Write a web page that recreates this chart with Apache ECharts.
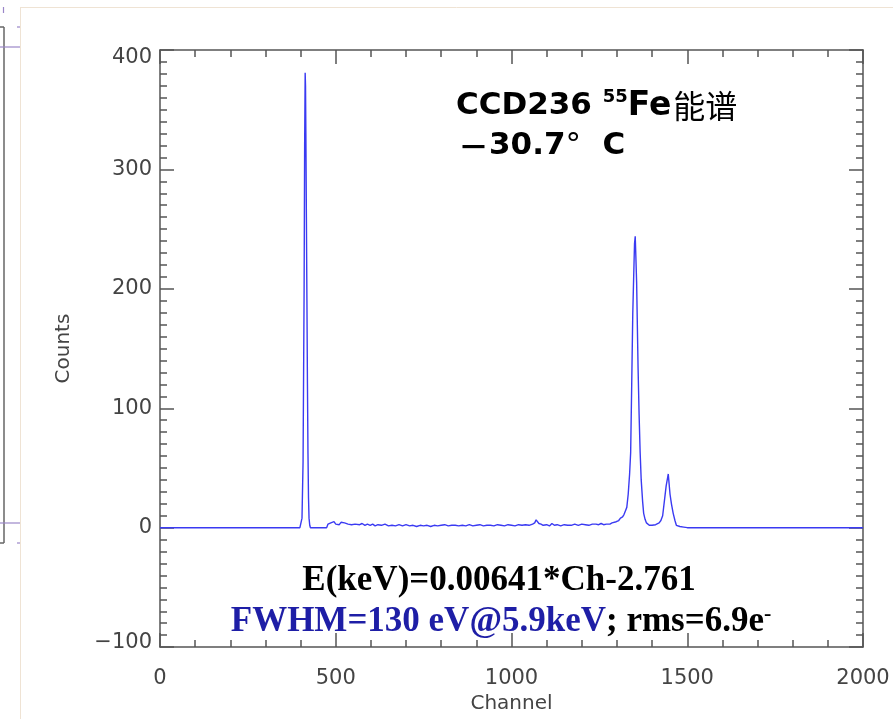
<!DOCTYPE html>
<html>
<head>
<meta charset="utf-8">
<title>CCD236 55Fe spectrum</title>
<script src="https://cdn.jsdelivr.net/npm/echarts@6.0.0/dist/echarts.min.js"></script>
<style>
  html, body { margin: 0; padding: 0; background: #fff; }
  #fe-spectrum { width: 893px; height: 719px; }
</style>
</head>
<body>
<div id="fe-spectrum"></div>
<script>
// channel / counts (piecewise, flat parts kept as end points)
var channels = [
  0, 398, 401, 404, 407, 410, 411.5, 413, 414, 415, 416.5, 418, 419.5, 421, 422.5, 424, 426, 428,
  474, 478, 482, 486, 490, 495, 500, 505, 510, 515, 520, 525, 530, 535, 540, 545, 550, 555,
  560, 568, 575, 583, 590, 598, 605, 612, 620, 630, 640, 650, 660, 670, 680, 690, 700,
  710, 720, 730, 740, 750, 760, 770, 780, 790, 800, 810, 820, 830, 840, 850, 860, 870,
  880, 890, 900, 910, 920, 930, 940, 950, 960, 970, 980, 990, 1000, 1010, 1020, 1030, 1040,
  1050, 1060, 1066, 1070, 1074, 1078, 1084, 1090, 1095, 1100, 1108, 1115, 1122, 1130, 1140,
  1150, 1160, 1170, 1180, 1190, 1200, 1210, 1220, 1230, 1240, 1248, 1255, 1262, 1270, 1275,
  1280, 1286, 1291, 1298, 1305, 1310, 1316, 1320, 1324, 1328, 1332, 1336, 1339, 1342, 1345, 1348,
  1350, 1352, 1354, 1356, 1358, 1360, 1363, 1366, 1369, 1373, 1376, 1380, 1384, 1388, 1392,
  1395, 1400, 1405, 1410, 1415, 1420, 1425, 1430, 1436, 1440, 1446, 1448, 1451, 1455, 1460,
  1465, 1469, 1479, 1490, 1500, 2000
];
var counts = [
  0, 0, 1, 8, 55, 200, 320, 381, 370, 330, 260, 190, 120, 62, 25, 8, 2, 0,
  0, 3, 2, 4, 3, 5, 3, 4, 2.5, 4.5, 3, 4, 5, 3, 4, 2.5, 4, 3,
  3.5, 2.5, 3.5, 2, 3, 2, 3, 1.5, 2.5, 2, 3, 1.5, 2, 1.5, 2.5, 1.5, 2.5,
  1.5, 2, 1, 2, 1.5, 2, 1, 2, 1.5, 2, 2.5, 1.5, 2, 2, 1.5, 2, 1.5,
  2.5, 1.5, 2, 2.5, 1.5, 2, 2, 1.5, 2.5, 2, 1.5, 2.5, 2, 1.5, 2.5, 2, 2.5,
  2, 3, 4, 6.5, 5, 3.5, 3, 2, 3, 2.5, 1.5, 3.5, 2, 2.5, 1.5,
  2.5, 2, 2, 3, 2, 3, 2.5, 2, 3, 3, 2.5, 3.5, 2.5, 3, 4,
  3, 4, 3, 5, 6, 8, 9, 11, 14, 17, 28, 45, 63, 120, 179, 215,
  238, 244, 225, 205, 170, 135, 95, 63, 40, 22, 12, 7, 4, 2.5, 2,
  3, 2, 3, 2.5, 3.5, 4, 6, 10, 25, 35, 45, 38, 28, 20, 12,
  6, 2, 1, 0.5, 0, 0
];

var xTicks = { min: 0, max: 2000, step: 500 };
var yTicks = { min: -100, max: 400, step: 100 };

var spectrum = channels.map(function (c, i) { return [c, counts[i]]; });

var chart = echarts.init(document.getElementById('fe-spectrum'));

var axisGrey = '#555';
var labelFont = 'DejaVu Sans';

function boxAxis(show) {
  return {
    axisLine: { show: true, onZero: false, lineStyle: { color: axisGrey, width: 1.5 } },
    axisTick: { show: true, inside: true, length: 14, lineStyle: { color: axisGrey, width: 1.5 } },
    minorTick: { show: true, length: 7, lineStyle: { color: axisGrey, width: 1.5 } },
    splitLine: { show: false },
    axisLabel: { show: show }
  };
}

var option = {
  animation: false,
  backgroundColor: '#fff',
  textStyle: { fontFamily: labelFont },
  grid: { left: 160, right: 30, top: 50, bottom: 64 },
  xAxis: [
    Object.assign(boxAxis(true), {
      type: 'value', position: 'bottom',
      min: xTicks.min, max: xTicks.max, interval: xTicks.step,
      minorTick: { show: true, splitNumber: 5, length: 7, lineStyle: { color: axisGrey, width: 1.5 } },
      axisLabel: {
        show: true, margin: 21, fontSize: 21, color: '#444', fontFamily: labelFont,
        formatter: function (v) { return String(v); }
      },
      name: 'Channel', nameLocation: 'middle', nameGap: 46,
      nameTextStyle: { fontSize: 20, color: '#444', fontFamily: labelFont }
    }),
    Object.assign(boxAxis(false), {
      type: 'value', position: 'top',
      min: xTicks.min, max: xTicks.max, interval: xTicks.step,
      minorTick: { show: true, splitNumber: 5, length: 7, lineStyle: { color: axisGrey, width: 1.5 } }
    })
  ],
  yAxis: [
    Object.assign(boxAxis(true), {
      type: 'value', position: 'left',
      min: yTicks.min, max: yTicks.max, interval: yTicks.step,
      minorTick: { show: true, splitNumber: 10, length: 7, lineStyle: { color: axisGrey, width: 1.5 } },
      axisLabel: {
        show: true, margin: 8, fontSize: 21, color: '#444', fontFamily: labelFont,
        formatter: function (v) {
          var s = v < 0 ? '\u2212' + Math.abs(v) : String(v);
          if (v === yTicks.max) return '{t|' + s + '}';
          if (v === yTicks.min) return '{b|' + s + '}';
          return s;
        },
        rich: {
          t: { fontSize: 21, color: '#444', fontFamily: labelFont, padding: [16, 0, 0, 0] },
          b: { fontSize: 21, color: '#444', fontFamily: labelFont, padding: [0, 0, 10, 0] }
        }
      },
      name: 'Counts', nameLocation: 'middle', nameGap: 86, nameRotate: 90,
      nameTextStyle: { fontSize: 20, color: '#444', fontFamily: labelFont }
    }),
    Object.assign(boxAxis(false), {
      type: 'value', position: 'right',
      min: yTicks.min, max: yTicks.max, interval: yTicks.step,
      minorTick: { show: true, splitNumber: 10, length: 7, lineStyle: { color: axisGrey, width: 1.5 } }
    })
  ],
  series: [{
    type: 'line',
    data: spectrum,
    showSymbol: false,
    lineStyle: { color: '#3a3af2', width: 1.4 },
    z: 3
  }],
  graphic: [
    // slide frame remains on the left
    { type: 'line', shape: { x1: 20.5, y1: 7, x2: 20.5, y2: 719 }, style: { stroke: '#efe3d4', lineWidth: 1 } },
    { type: 'line', shape: { x1: 20, y1: 7.5, x2: 893, y2: 7.5 }, style: { stroke: '#efe3d4', lineWidth: 1 } },
    { type: 'line', shape: { x1: 4, y1: 27, x2: 4, y2: 543 }, style: { stroke: '#666', lineWidth: 1.5 } },
    { type: 'line', shape: { x1: 0, y1: 27, x2: 4, y2: 27 }, style: { stroke: '#666', lineWidth: 1.5 } },
    { type: 'line', shape: { x1: 0, y1: 543, x2: 4, y2: 543 }, style: { stroke: '#666', lineWidth: 1.5 } },
    { type: 'line', shape: { x1: 0, y1: 47, x2: 20, y2: 47 }, style: { stroke: '#9a86c8', lineWidth: 1.2 } },
    { type: 'line', shape: { x1: 0, y1: 523, x2: 20, y2: 523 }, style: { stroke: '#9a86c8', lineWidth: 1.2 } },
    { type: 'line', shape: { x1: 3.5, y1: 7, x2: 3.5, y2: 13 }, style: { stroke: '#9a86c8', lineWidth: 1.2 } },
    { type: 'line', shape: { x1: 17, y1: 27, x2: 20, y2: 27 }, style: { stroke: '#9a86c8', lineWidth: 1.2 } },
    { type: 'line', shape: { x1: 17, y1: 543, x2: 20, y2: 543 }, style: { stroke: '#9a86c8', lineWidth: 1.2 } },
    // title block
    {
      type: 'text', x: 456, y: 88, z: 10,
      style: {
        text: '{a|CCD236 }{s|55}{f|Fe}{c|能谱}',
        rich: {
          a: { fontSize: 31, fontWeight: 'bold', fill: '#000', fontFamily: 'DejaVu Sans', lineHeight: 36 },
          s: { fontSize: 18, fontWeight: 'bold', fill: '#000', fontFamily: 'DejaVu Sans', verticalAlign: 'top', lineHeight: 22 },
          f: { fontSize: 33, fontWeight: 'bold', fill: '#000', fontFamily: 'DejaVu Sans', lineHeight: 36, padding: [0, 2, 0, 0] },
          c: { fontSize: 32, fontWeight: 'normal', fill: '#000', fontFamily: 'Noto Sans CJK SC', lineHeight: 36 }
        }
      }
    },
    {
      type: 'text', x: 458, y: 128, z: 10,
      style: {
        text: '{m|－}{a|30.7}{d|°}{a|  C}',
        rich: {
          m: { fontSize: 31, fontWeight: 'bold', fill: '#000', fontFamily: 'Noto Sans CJK SC', lineHeight: 36 },
          a: { fontSize: 31, fontWeight: 'bold', fill: '#000', fontFamily: 'DejaVu Sans', lineHeight: 36 },
          d: { fontSize: 31, fontWeight: 'normal', fill: '#000', fontFamily: 'DejaVu Sans', lineHeight: 36 }
        }
      }
    },
    // calibration and resolution notes
    {
      type: 'text', x: 499, y: 581, z: 10,
      style: {
        text: 'E(keV)=0.00641*Ch-2.761',
        fill: '#000', fontSize: 35, fontWeight: 'bold', fontFamily: 'Liberation Serif',
        align: 'center', verticalAlign: 'middle'
      }
    },
    {
      type: 'text', x: 501, y: 622, z: 10,
      style: {
        text: '{b|FWHM=130 eV@5.9keV}{k|; rms=6.9e}{u|-}',
        align: 'center', verticalAlign: 'middle',
        rich: {
          b: { fontSize: 35, fontWeight: 'bold', fill: '#1e1ea6', fontFamily: 'Liberation Serif', lineHeight: 38 },
          k: { fontSize: 35, fontWeight: 'bold', fill: '#000', fontFamily: 'Liberation Serif', lineHeight: 38 },
          u: { fontSize: 22, fontWeight: 'bold', fill: '#000', fontFamily: 'Liberation Serif', verticalAlign: 'top', lineHeight: 20 }
        }
      }
    }
  ]
};

chart.setOption(option);
</script>
</body>
</html>
